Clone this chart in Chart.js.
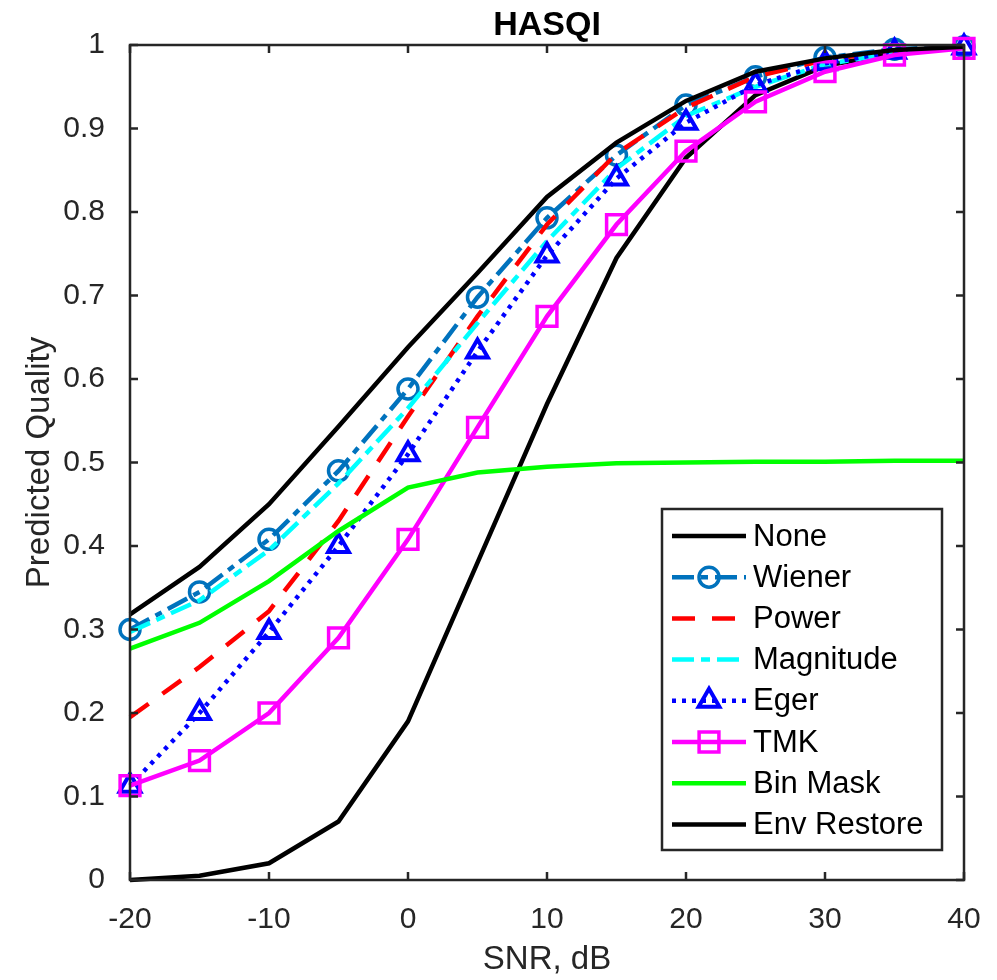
<!DOCTYPE html>
<html>
<head>
<meta charset="utf-8">
<script src="https://cdn.jsdelivr.net/npm/chart.js@4"></script>
<style>
  html, body { margin: 0; padding: 0; background: #fff; }
  #wrap { width: 997px; height: 980px; position: relative; }
</style>
</head>
<body>
<div id="wrap"><canvas id="hasqi"></canvas></div>
<script>
// data
var snr = [-20, -15, -10, -5, 0, 5, 10, 15, 20, 25, 30, 35, 40];
var yTicks = [0, 0.1, 0.2, 0.3, 0.4, 0.5, 0.6, 0.7, 0.8, 0.9, 1];
var xTicks = [-20, -10, 0, 10, 20, 30, 40];

var none       = [0.000, 0.005, 0.020, 0.070, 0.190, 0.380, 0.570, 0.745, 0.865, 0.940, 0.975, 0.990, 0.997];
var wiener     = [0.300, 0.345, 0.408, 0.490, 0.588, 0.698, 0.793, 0.868, 0.928, 0.962, 0.985, 0.995, 0.998];
var power      = [0.195, 0.255, 0.322, 0.430, 0.555, 0.675, 0.785, 0.870, 0.925, 0.962, 0.982, 0.993, 0.998];
var magnitude  = [0.297, 0.335, 0.395, 0.475, 0.565, 0.667, 0.765, 0.852, 0.915, 0.950, 0.977, 0.990, 0.997];
var eger       = [0.113, 0.200, 0.297, 0.400, 0.510, 0.633, 0.748, 0.840, 0.907, 0.952, 0.978, 0.992, 0.997];
var tmk        = [0.113, 0.143, 0.200, 0.290, 0.408, 0.542, 0.675, 0.785, 0.873, 0.932, 0.968, 0.988, 0.996];
var binMask    = [0.277, 0.308, 0.358, 0.418, 0.470, 0.488, 0.495, 0.499, 0.500, 0.501, 0.501, 0.502, 0.502];
var envRestore = [0.318, 0.375, 0.450, 0.543, 0.638, 0.727, 0.818, 0.883, 0.933, 0.968, 0.984, 0.994, 0.998];

var FONT = 'Arial, "Liberation Sans", sans-serif';
var AXC = '#262626';

function pts(arr) {
  return arr.map(function (v, i) { return { x: snr[i], y: v }; });
}

function line(label, data, color, dash, marker, radius) {
  return {
    label: label,
    data: pts(data),
    borderColor: color,
    backgroundColor: 'rgba(0,0,0,0)',
    borderWidth: 4.5,
    borderDash: dash,
    pointStyle: marker || false,
    pointRadius: marker ? radius : 0,
    pointBorderWidth: 3.5,
    pointBorderColor: color,
    pointBackgroundColor: 'rgba(0,0,0,0)',
    tension: 0,
    fill: false,
    clip: false
  };
}

var sets = [
  line('None', none, '#000000', []),
  line('Wiener', wiener, '#0072BD', [22, 7, 7, 7], 'circle', 10),
  line('Power', power, '#FF0000', [23, 17]),
  line('Magnitude', magnitude, '#00FFFF', [22, 7, 9, 7]),
  line('Eger', eger, '#0000FF', [4, 6], 'triangle', 12),
  line('TMK', tmk, '#FF00FF', [], 'rect', 14),
  line('Bin Mask', binMask, '#00FF00', []),
  line('Env Restore', envRestore, '#000000', [])
];
sets.forEach(function (d, i) { d.order = sets.length - i; });
sets[4].pointBorderWidth = 4;

// box, inward ticks, title and legend like the MATLAB figure
var matlabFrame = {
  id: 'matlabFrame',
  afterDatasetsDraw: function (chart) {
    var c = chart.ctx, a = chart.chartArea;
    var xs = chart.scales.x, ys = chart.scales.y;
    c.save();
    c.strokeStyle = AXC;
    c.lineWidth = 2.5;
    c.setLineDash([]);
    c.strokeRect(a.left, a.top, a.right - a.left, a.bottom - a.top);
    c.beginPath();
    yTicks.forEach(function (v) {
      var p = ys.getPixelForValue(v);
      c.moveTo(a.left, p); c.lineTo(a.left + 8, p);
      c.moveTo(a.right, p); c.lineTo(a.right - 8, p);
    });
    xTicks.forEach(function (v) {
      var p = xs.getPixelForValue(v);
      c.moveTo(p, a.bottom); c.lineTo(p, a.bottom - 8);
      c.moveTo(p, a.top); c.lineTo(p, a.top + 8);
    });
    c.stroke();

    c.fillStyle = '#000';
    c.font = 'bold 34px ' + FONT;
    c.textAlign = 'center';
    c.textBaseline = 'alphabetic';
    c.fillText('HASQI', (a.left + a.right) / 2, 35);

    // legend
    var lx = 662, ly = 509, lw = 280, lh = 341;
    c.fillStyle = '#fff';
    c.fillRect(lx, ly, lw, lh);
    c.strokeStyle = AXC;
    c.lineWidth = 2.5;
    c.strokeRect(lx, ly, lw, lh);
    c.font = '31px ' + FONT;
    c.textAlign = 'left';
    c.textBaseline = 'middle';
    chart.data.datasets.forEach(function (d, i) {
      var y = ly + 27 + i * 41.2;
      c.strokeStyle = d.borderColor;
      c.lineWidth = 4.5;
      c.setLineDash(d.borderDash);
      c.beginPath();
      c.moveTo(lx + 10, y); c.lineTo(lx + 84, y);
      c.stroke();
      c.setLineDash([]);
      if (d.pointStyle) {
        c.fillStyle = 'rgba(0,0,0,0)';
        c.lineWidth = d.pointBorderWidth;
        Chart.helpers.drawPoint(c, { pointStyle: d.pointStyle, radius: d.pointRadius, borderWidth: d.pointBorderWidth }, lx + 47, y);
      }
      c.fillStyle = '#000';
      c.fillText(d.label, lx + 91, y + 1);
    });
    c.restore();
  }
};

new Chart(document.getElementById('hasqi'), {
  type: 'line',
  data: { datasets: sets },
  options: {
    responsive: true,
    maintainAspectRatio: false,
    animation: false,
    layout: { padding: { top: 45, right: 33, left: 0, bottom: 0 } },
    plugins: { legend: { display: false }, title: { display: false }, tooltip: { enabled: false } },
    scales: {
      x: {
        type: 'linear',
        min: -20, max: 40,
        afterFit: function (s) { s.height = 100; },
        afterBuildTicks: function (s) { s.ticks = xTicks.map(function (v) { return { value: v }; }); },
        grid: { display: false },
        border: { display: false },
        ticks: { color: '#262626', font: { family: FONT, size: 30 }, padding: 14, maxRotation: 0,
                 callback: function (v) { return String(v); } },
        title: { display: true, text: 'SNR, dB', color: '#262626', font: { family: FONT, size: 33 }, padding: { top: 3, bottom: 0 } }
      },
      y: {
        min: 0, max: 1,
        afterFit: function (s) { s.width = 130; },
        afterBuildTicks: function (s) { s.ticks = yTicks.map(function (v) { return { value: v }; }); },
        grid: { display: false },
        border: { display: false },
        ticks: { color: '#262626', font: { family: FONT, size: 30 }, padding: 17,
                 callback: function (v) { return String(v); } },
        title: { display: true, text: 'Predicted Quality', color: '#262626', font: { family: FONT, size: 33 }, padding: { top: 20, bottom: 0 } }
      }
    }
  },
  plugins: [matlabFrame]
});
</script>
</body>
</html>
